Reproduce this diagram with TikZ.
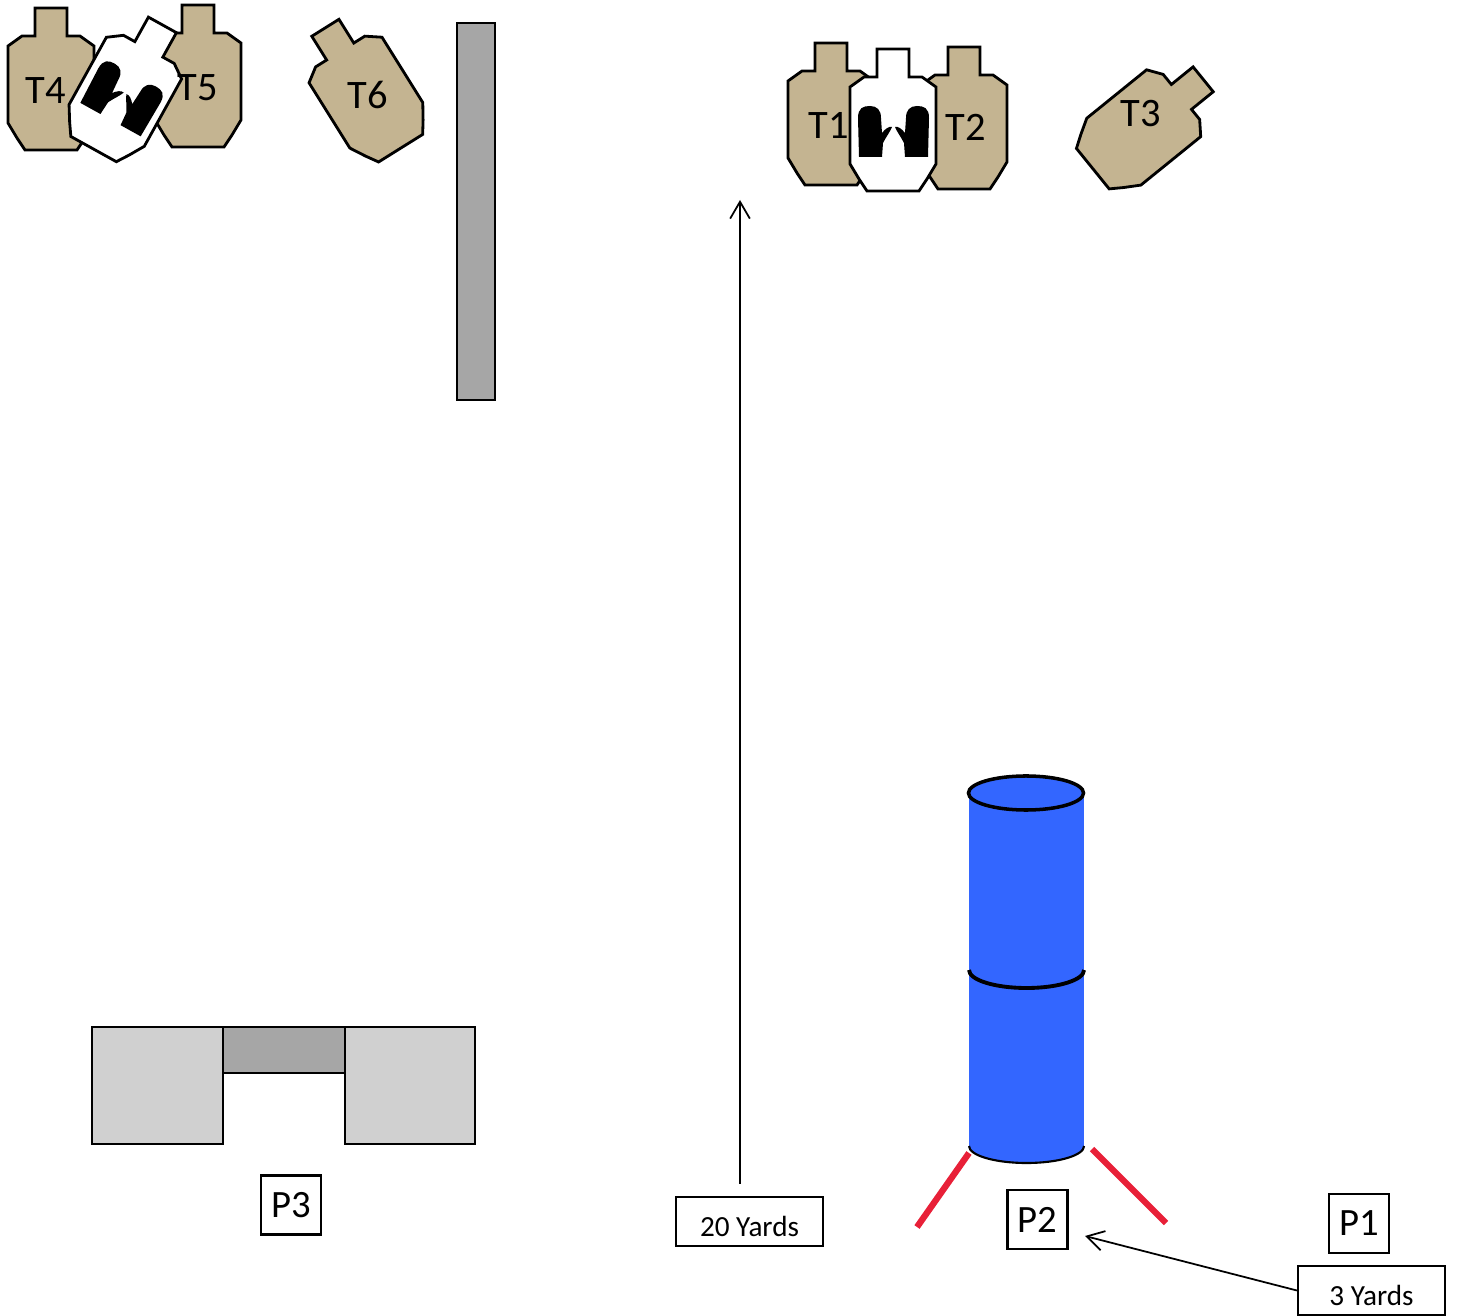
\documentclass[tikz,border=0pt]{standalone}
\usepackage{fontspec}
\setmainfont{Carlito}
\usetikzlibrary{arrows.meta, calc}
\definecolor{cardboard}{RGB}{196, 180, 145}
\definecolor{barrel}{RGB}{51, 102, 255}
\definecolor{wall}{RGB}{166, 166, 166}
\definecolor{block}{RGB}{208, 208, 208}
\definecolor{tape}{RGB}{232, 32, 56}

\begin{document}
\begin{tikzpicture}[
    x=0.01cm, y=-0.01cm,
    >={Straight Barb[length=4.8pt, width=5.6pt]},
    outline/.style={draw=black, line width=0.8pt},
    tag/.style={draw, line width=0.6pt, minimum width=0.6cm, minimum height=0.59cm,
      inner sep=0pt, font=\fontsize{11}{13}\selectfont},
    dist/.style={draw, line width=0.6pt, minimum width=1.47cm, minimum height=0.49cm,
      inner sep=0pt, text height=8.4pt, text depth=0pt, font=\fontsize{8.3}{10}\selectfont},
    lbl/.style={font=\fontsize{11.5}{13}\selectfont},
    pics/ipsc/.style={code={
      \draw[outline, fill=#1] (-16,-71) -- (16,-71) -- (16,-43) -- (29,-43) -- (43,-33)
        -- (43,44) -- (34,59) -- (26,71) -- (-26,71) -- (-34,59) -- (-43,44)
        -- (-43,-33) -- (-29,-43) -- (-16,-43) -- cycle;
    }},
    pics/hand/.style={code={
      \fill (-12,25) -- (-13,-14) .. controls (-13,-24) and (-8,-26) .. (-1,-26)
        .. controls (6,-26) and (10,-22) .. (10,-14) -- (11,1)
        .. controls (14,-3) and (18,-6) .. (21,-5)
        .. controls (19,0) and (15,5) .. (12,11) -- (11,25) -- cycle;
    }},
    pics/noshoot/.style={code={
      \pic[transform shape] {ipsc=white};
      \pic[transform shape] at (-22,12) {hand};
      \pic[transform shape, xscale=-1] at (23,12) {hand};
    }}
  ]
  \useasboundingbox (0,0) rectangle (1457,1316);

  % left target array
  \pic at (51,79) {ipsc=cardboard};
  \pic at (198,76) {ipsc=cardboard};
  \pic[rotate=-29] at (128,87) {noshoot};
  \pic[rotate=32] at (363,88) {ipsc=cardboard};

  % right target array
  \pic at (831,114) {ipsc=cardboard};
  \pic at (964,118) {ipsc=cardboard};
  \pic at (893,120) {noshoot};
  \pic[rotate=-51] at (1148,124) {ipsc=cardboard};

  \foreach \t/\x/\y in {1/829/125, 2/966/127, 3/1141/114, 4/46/91, 5/198/88, 6/368/95} {
    \node[lbl] (t\t) at (\x,\y) {T\t};
  }

  % wall
  \draw[outline, fill=wall] (457,23) rectangle (495,400);

  % barrels with fault lines
  \draw[tape, line width=1.8pt] (969,1153) -- (917,1227);
  \draw[tape, line width=1.8pt] (1092,1149) -- (1166,1223);
  \fill[barrel] (969,793) rectangle (1084,1146);
  \draw[line width=0.6pt, fill=barrel] (969,1146)
    arc[start angle=180, end angle=360, x radius=0.575cm, y radius=0.17cm];
  \draw[line width=1.1pt] (969,970)
    arc[start angle=180, end angle=360, x radius=0.575cm, y radius=0.18cm];
  \draw[line width=1pt, fill=barrel] (1026,793) ellipse[x radius=0.575cm, y radius=0.17cm];

  % ports
  \draw[outline, fill=block] (92,1027) rectangle (223,1144);
  \draw[outline, fill=block] (345,1027) rectangle (475,1144);
  \draw[outline, fill=wall] (223,1027) rectangle (345,1073);

  % positions
  \node[tag] (p1) at (1359,1223.5) {P1};
  \node[tag] (p2) at (1037.5,1219.5) {P2};
  \node[tag] (p3) at (291,1205) {P3};

  % distances
  \node[dist] (yd20) at (749.5,1221.5) {20 Yards};
  \node[dist] (yd3) at (1371.5,1290.5) {3 Yards};
  \coordinate (tip20) at (740,200);
  \coordinate (tip3) at (1085,1236);
  \draw[->, line width=0.5pt] ($(yd20.north)+(-9.5,-12)$) -- (tip20);
  \draw[->, line width=0.5pt] (yd3.west) -- (tip3);
\end{tikzpicture}
\end{document}
